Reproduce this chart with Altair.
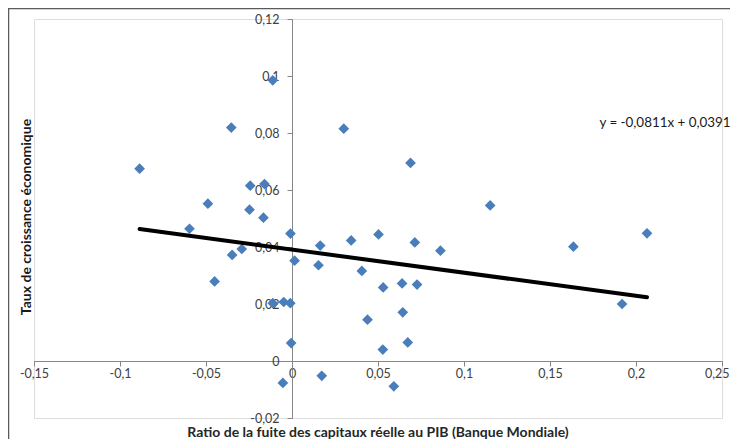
import altair as alt
import pandas as pd

# Data
x_vals = [-0.0112, -0.0353, -0.0886, -0.0243, -0.0160, -0.0489, -0.0247, -0.0166,
          -0.0596, -0.0009, -0.0292, -0.0348, 0.0015, -0.0450, -0.0112, -0.0048,
          -0.0010, -0.0005, -0.0053, 0.0164, 0.0344, 0.0503, 0.0714, 0.0863,
          0.0154, 0.0406, 0.0530, 0.0640, 0.0727, 0.0439, 0.0644, 0.0673,
          0.0528, 0.0173, 0.0592, 0.0301, 0.0689, 0.1152, 0.1636, 0.2064, 0.1919]
y_vals = [0.0985, 0.0819, 0.0675, 0.0615, 0.0621, 0.0552, 0.0531, 0.0503,
          0.0464, 0.0447, 0.0393, 0.0372, 0.0352, 0.0279, 0.0203, 0.0207,
          0.0203, 0.0063, -0.0077, 0.0405, 0.0423, 0.0444, 0.0416, 0.0387,
          0.0336, 0.0316, 0.0258, 0.0272, 0.0268, 0.0145, 0.0171, 0.0065,
          0.0040, -0.0052, -0.0089, 0.0815, 0.0695, 0.0546, 0.0401, 0.0448, 0.0200]

# Trend line equation shown on the chart
slope = -0.0811
intercept = 0.0391
equation_label = "y = -0,0811x + 0,0391"

x_ticks = [-0.15, -0.1, -0.05, 0, 0.05, 0.1, 0.15, 0.2, 0.25]
y_ticks = [-0.02, 0, 0.02, 0.04, 0.06, 0.08, 0.1, 0.12]
x_title = "Ratio de la fuite des capitaux  réelle au PIB (Banque  Mondiale)"
y_title = "Taux de croissance  économique"

W, H = 688, 399
FONT = "Lato"

pts = pd.DataFrame({"x": x_vals, "y": y_vals})
lx = [min(x_vals), max(x_vals)]
line_df = pd.DataFrame({"x": lx, "y": [slope * v + intercept for v in lx]})

xscale = alt.Scale(domain=[-0.15, 0.25], nice=False, zero=False)
yscale = alt.Scale(domain=[-0.02, 0.12], nice=False, zero=False)

label_expr = "replace(toString(datum.value), '.', ',')"

x_axis = alt.Axis(values=x_ticks, labelExpr=label_expr, orient="bottom",
                  offset=-round(H * 0.02 / 0.14), title=None, grid=False,
                  domainColor="#878787", tickColor="#878787", tickSize=5,
                  labelPadding=1, labelFont=FONT, labelFontSize=12.5,
                  labelColor="#404040", labelOverlap=False, labelFlush=False,
                  labelBound=False,
                  labelAlign=alt.expr("datum.value > 0.24 ? 'right' : 'center'"),
                  labelOffset={"condition": {"test": "datum.value > 0.24", "value": 7}, "value": 0})
y_axis = alt.Axis(values=y_ticks, labelExpr=label_expr, orient="left",
                  offset=-round(W * 0.15 / 0.4), title=None, grid=False,
                  domainColor="#878787", tickColor="#878787", tickSize=5,
                  labelPadding=8, labelFont=FONT, labelFontSize=12.5,
                  labelColor="#404040", labelOverlap=False, labelFlush=False,
                  labelBound=False)

frame = alt.Chart(pd.DataFrame({"a": [0]})).mark_rect(
    fill=None, stroke="#5a5a5a", strokeWidth=1.5
).encode(x=alt.value(-25.5), x2=alt.value(1000), y=alt.value(-10.5), y2=alt.value(1000))

points = alt.Chart(pts).mark_point(
    shape="diamond", filled=True, size=115, color="#4a7ebb", opacity=1
).encode(
    x=alt.X("x:Q", scale=xscale, axis=x_axis),
    y=alt.Y("y:Q", scale=yscale, axis=y_axis),
)

trend = alt.Chart(line_df).mark_line(color="black", strokeWidth=4, strokeCap="round").encode(
    x=alt.X("x:Q", scale=xscale),
    y=alt.Y("y:Q", scale=yscale),
)

eq_text = alt.Chart(pd.DataFrame({"t": [equation_label]})).mark_text(
    font=FONT, fontSize=13.4, color="#1a1a1a", align="center", baseline="middle"
).encode(text="t:N", x=alt.value(631), y=alt.value(104))

xt = alt.Chart(pd.DataFrame({"t": [x_title]})).mark_text(
    font=FONT, fontSize=14, fontWeight="bold", color="#262626", align="center", baseline="middle"
).encode(text="t:N", x=alt.value(344), y=alt.value(414))

yt = alt.Chart(pd.DataFrame({"t": [y_title]})).mark_text(
    font=FONT, fontSize=14, fontWeight="bold", color="#1a1a1a", align="center",
    baseline="middle", angle=270
).encode(text="t:N", x=alt.value(-7), y=alt.value(198))

chart = alt.layer(frame, points, trend, eq_text, xt, yt).properties(
    width=W, height=H,
    autosize=alt.AutoSizeParams(type="none"),
    padding={"left": 26, "top": 11, "right": 8, "bottom": 21},
).configure_view(stroke=None).configure(background="white")

chart.save("out.html", embed_options={"renderer": "svg", "actions": False})
